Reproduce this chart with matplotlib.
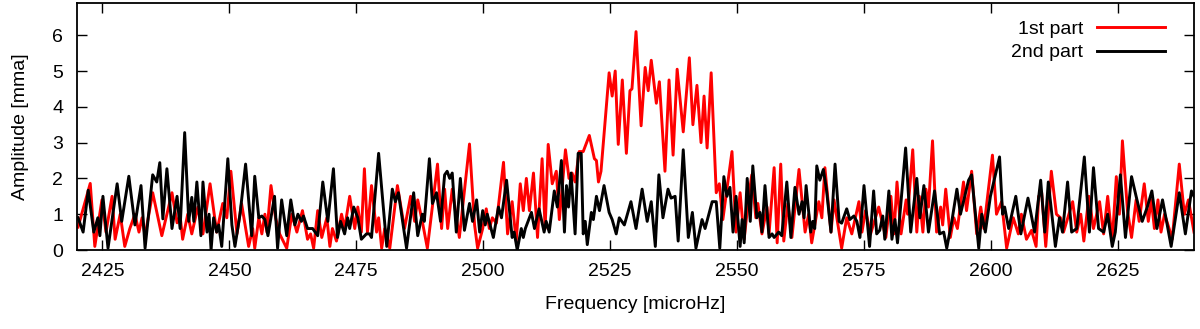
import matplotlib
matplotlib.use("Agg")
import matplotlib.pyplot as plt

# local maxima/minima of each amplitude spectrum
red_freq = [
    2420.2, 2422.6, 2423.5, 2424.9, 2425.7, 2426.9, 2427.5, 2428.5, 2429.4, 2430.4,
    2431.4, 2432.2, 2432.8, 2433.4, 2434.9, 2436.7, 2438.7, 2439.7, 2440.3, 2440.8,
    2441.8, 2442.6, 2443.8, 2444.8, 2446.2, 2447.5, 2448.7, 2449.5, 2450.3, 2451.5,
    2452.4, 2453.8, 2454.6, 2455.0, 2455.8, 2456.4, 2457.0, 2457.4, 2458.2, 2459.1,
    2459.9, 2461.3, 2462.3, 2463.3, 2464.4, 2465.4, 2466.0, 2466.6, 2467.4, 2468.2,
    2469.2, 2469.8, 2470.3, 2471.1, 2472.1, 2472.7, 2473.7, 2474.7, 2475.3, 2476.0,
    2476.6, 2477.2, 2478.0, 2479.0, 2479.4, 2480.0, 2480.6, 2481.6, 2483.1, 2484.5,
    2485.7, 2486.5, 2487.1, 2488.0, 2489.0, 2491.0, 2491.8, 2492.4, 2493.0, 2493.9,
    2495.3, 2497.3, 2498.3, 2498.9, 2499.9, 2500.6, 2501.2, 2501.8, 2502.6, 2504.0,
    2504.8, 2505.7, 2506.5, 2507.3, 2507.9, 2508.5, 2509.1, 2509.9, 2510.7, 2511.6,
    2512.2, 2512.8, 2513.6, 2514.4, 2515.0, 2516.2, 2516.9, 2517.5, 2518.1, 2518.9,
    2519.7, 2520.9, 2521.9, 2522.3, 2522.7, 2523.2, 2524.8, 2525.4, 2526.0, 2526.6,
    2527.4, 2528.2, 2528.9, 2529.3, 2530.1, 2531.1, 2531.9, 2532.5, 2533.1, 2534.1,
    2534.7, 2535.8, 2536.6, 2537.4, 2538.2, 2539.4, 2540.6, 2541.3, 2542.1, 2542.9,
    2543.5, 2544.1, 2544.9, 2545.9, 2546.5, 2547.2, 2549.0, 2549.8, 2550.6, 2551.4,
    2552.3, 2552.9, 2553.7, 2554.1, 2554.9, 2555.9, 2556.3, 2557.3, 2557.9, 2558.6,
    2559.2, 2560.0, 2560.8, 2562.2, 2563.4, 2564.1, 2564.7, 2566.1, 2566.7, 2567.3,
    2568.5, 2569.1, 2570.6, 2571.6, 2572.6, 2574.0, 2574.6, 2575.3, 2576.3, 2577.9,
    2579.3, 2580.3, 2580.9, 2581.5, 2582.3, 2583.3, 2583.6, 2584.6, 2585.4, 2585.9,
    2586.6, 2587.2, 2587.7, 2588.5, 2589.3, 2590.1, 2590.5, 2591.1, 2592.0, 2592.7,
    2593.4, 2594.6, 2595.2, 2596.2, 2597.2, 2598.0, 2598.6, 2600.3, 2601.1, 2602.1,
    2603.1, 2604.4, 2605.4, 2606.0, 2607.0, 2608.0, 2608.9, 2609.4, 2610.0, 2610.8,
    2611.9, 2612.9, 2613.7, 2614.3, 2616.1, 2616.9, 2617.7, 2618.3, 2619.3, 2620.2,
    2621.4, 2622.2, 2623.0, 2623.9, 2624.7, 2625.3, 2625.9, 2626.9, 2627.7, 2628.6,
    2629.2, 2630.2, 2631.0, 2631.6, 2632.2, 2632.9, 2633.5, 2634.2, 2635.1, 2635.7,
    2637.1, 2638.1, 2638.9, 2640.0,
]
red_amp = [
    0.64, 1.86, 0.10, 1.40, 0.50, 1.50, 0.30, 1.00, 0.10, 0.60,
    1.00, 0.50, 0.90, 0.40, 1.60, 0.40, 1.60, 0.76, 0.95, 0.30,
    1.00, 0.45, 1.20, 0.45, 1.85, 0.50, 1.30, 0.90, 2.20, 0.45,
    1.30, 0.10, 0.60, 0.05, 0.90, 0.45, 1.00, 0.50, 1.80, 0.90,
    0.45, 0.05, 1.00, 0.50, 1.10, 0.30, 0.45, 0.05, 1.10, 0.35,
    0.90, 0.10, 0.60, 0.25, 1.00, 0.60, 1.50, 0.60, 1.20, 0.50,
    2.27, 0.50, 1.80, 0.50, 0.90, 0.05, 0.60, 0.05, 1.80, 0.60,
    1.50, 0.80, 1.40, 0.80, 0.05, 2.40, 0.60, 1.70, 0.60, 1.70,
    0.35, 2.96, 0.70, 0.05, 0.60, 1.15, 0.60, 0.90, 0.75, 2.45,
    0.45, 1.35, 0.25, 1.85, 1.10, 2.00, 1.10, 2.15, 0.35, 2.55,
    0.60, 2.95, 1.85, 2.20, 0.85, 2.80, 2.00, 2.15, 1.90, 2.75,
    2.75, 3.20, 2.55, 2.50, 1.90, 2.20, 4.95, 4.30, 5.00, 2.95,
    4.75, 2.70, 4.45, 4.50, 6.10, 3.47, 5.10, 4.45, 5.30, 4.10,
    4.70, 2.20, 4.75, 2.65, 5.05, 3.30, 5.37, 3.50, 4.60, 3.00,
    4.30, 2.85, 4.95, 1.60, 1.85, 0.85, 2.75, 0.50, 1.60, 0.30,
    1.50, 2.10, 0.90, 1.30, 0.45, 1.20, 0.45, 2.30, 0.20, 2.40,
    0.25, 1.30, 0.35, 2.25, 0.50, 1.00, 0.20, 1.35, 0.90, 2.30,
    0.50, 1.40, 0.05, 0.90, 0.45, 1.35, 0.50, 1.10, 0.45, 1.20,
    0.35, 1.50, 0.45, 1.90, 0.45, 1.40, 1.00, 2.80, 0.50, 1.50,
    0.50, 1.70, 1.20, 3.05, 0.50, 1.20, 0.70, 1.70, 0.35, 0.90,
    0.60, 1.90, 1.10, 2.20, 0.45, 1.20, 0.60, 2.65, 1.00, 1.35,
    0.05, 0.90, 0.45, 1.00, 0.30, 0.55, 0.10, 1.50, 1.60, 0.10,
    2.20, 1.00, 0.90, 0.50, 1.35, 0.50, 1.00, 0.25, 1.50, 0.60,
    1.35, 0.45, 1.50, 0.25, 2.05, 1.00, 3.05, 1.10, 0.35, 1.40,
    0.80, 1.85, 0.80, 1.40, 0.60, 1.40, 0.50, 1.00, 0.60, 0.30,
    2.40, 1.00, 1.40, 0.50,
]

black_freq = [
    2420.2, 2421.2, 2422.2, 2423.3, 2424.1, 2424.5, 2425.1, 2426.1, 2427.9, 2428.8,
    2430.2, 2431.4, 2432.6, 2433.4, 2434.9, 2435.7, 2436.3, 2436.9, 2437.7, 2438.7,
    2439.7, 2440.3, 2441.2, 2442.0, 2442.6, 2443.0, 2443.6, 2444.4, 2444.8, 2445.6,
    2446.0, 2446.4, 2446.9, 2447.5, 2447.9, 2448.5, 2449.7, 2450.5, 2451.1, 2452.1,
    2453.2, 2454.4, 2455.0, 2455.8, 2456.4, 2457.0, 2457.6, 2458.9, 2459.5, 2460.3,
    2461.3, 2462.1, 2462.9, 2463.5, 2464.2, 2464.6, 2465.4, 2466.4, 2467.4, 2468.4,
    2469.4, 2470.5, 2471.3, 2471.9, 2472.7, 2473.3, 2473.7, 2474.5, 2475.3, 2476.0,
    2477.0, 2477.6, 2478.0, 2479.4, 2481.0, 2482.1, 2482.7, 2483.3, 2484.9, 2486.3,
    2487.1, 2488.0, 2488.4, 2489.4, 2490.0, 2490.8, 2491.6, 2492.4, 2492.9, 2493.4,
    2493.9, 2494.7, 2495.5, 2496.3, 2497.3, 2497.9, 2498.7, 2499.3, 2499.9, 2500.4,
    2500.8, 2502.0, 2503.0, 2503.6, 2504.6, 2505.7, 2506.1, 2506.7, 2507.5, 2507.9,
    2508.3, 2509.5, 2510.1, 2511.0, 2512.0, 2512.4, 2513.0, 2514.0, 2514.6, 2515.4,
    2516.0, 2516.4, 2516.8, 2517.3, 2518.1, 2518.7, 2519.3, 2519.7, 2520.1, 2520.5,
    2521.3, 2521.7, 2522.3, 2522.9, 2523.8, 2524.8, 2525.4, 2526.2, 2526.8, 2527.8,
    2529.1, 2530.1, 2531.3, 2532.3, 2533.1, 2533.9, 2534.6, 2535.4, 2536.4, 2537.0,
    2537.8, 2538.4, 2539.4, 2540.4, 2541.2, 2541.9, 2543.1, 2543.7, 2545.1, 2545.9,
    2546.6, 2547.4, 2548.0, 2548.6, 2549.2, 2549.8, 2550.6, 2551.0, 2551.4, 2552.0,
    2552.6, 2553.1, 2553.9, 2554.5, 2554.9, 2555.5, 2556.3, 2556.9, 2557.3, 2558.2,
    2558.8, 2559.8, 2560.6, 2561.4, 2562.2, 2562.8, 2563.2, 2563.6, 2564.5, 2564.9,
    2565.3, 2565.7, 2566.3, 2567.0, 2567.6, 2568.5, 2569.3, 2570.1, 2570.6, 2571.6,
    2572.2, 2573.0, 2573.6, 2574.2, 2575.0, 2576.1, 2576.9, 2577.5, 2578.1, 2578.7,
    2579.1, 2579.9, 2580.5, 2581.1, 2581.6, 2583.2, 2584.2, 2585.4, 2586.0, 2586.8,
    2587.7, 2588.9, 2589.9, 2590.7, 2591.3, 2592.3, 2593.3, 2594.0, 2595.0, 2595.6,
    2596.2, 2597.6, 2598.2, 2598.9, 2599.9, 2601.7, 2602.3, 2602.7, 2603.5, 2604.9,
    2605.9, 2607.3, 2608.6, 2609.8, 2610.6, 2611.3, 2612.7, 2613.5, 2614.1, 2615.1,
    2615.9, 2616.9, 2618.4, 2619.4, 2620.2, 2621.2, 2622.2, 2623.0, 2623.9, 2624.5,
    2625.5, 2626.5, 2627.7, 2628.6, 2629.8, 2630.8, 2631.7, 2632.7, 2633.8, 2634.6,
    2635.5, 2637.1, 2638.3, 2639.5, 2640.0,
]
black_amp = [
    0.90, 0.50, 1.67, 0.50, 0.90, 0.40, 1.50, 0.05, 1.85, 0.80,
    2.06, 0.70, 1.80, 0.05, 2.10, 1.90, 2.44, 0.87, 2.27, 0.60,
    1.50, 0.60, 3.28, 0.80, 1.47, 0.80, 1.90, 0.40, 1.90, 0.50,
    1.00, 0.00, 0.90, 0.50, 0.70, 0.10, 2.55, 0.70, 0.10, 1.00,
    2.40, 0.40, 2.06, 0.90, 0.95, 0.85, 0.40, 1.50, 0.05, 1.40,
    0.40, 1.40, 0.70, 1.00, 0.80, 0.95, 0.60, 0.60, 0.40, 1.90,
    0.80, 2.27, 0.35, 0.80, 0.45, 0.90, 0.60, 1.20, 0.90, 0.30,
    0.45, 0.45, 0.35, 2.70, 0.10, 1.70, 1.35, 1.60, 0.05, 1.60,
    0.40, 1.00, 0.80, 2.55, 1.30, 1.60, 0.80, 2.10, 2.20, 2.00,
    2.15, 0.50, 2.00, 0.55, 1.30, 0.80, 1.40, 0.50, 1.10, 0.70,
    1.00, 0.35, 1.20, 0.90, 1.95, 0.35, 0.50, 0.00, 0.60, 0.35,
    0.60, 1.05, 0.60, 1.15, 0.50, 0.80, 0.50, 1.65, 1.20, 2.50,
    0.50, 1.80, 1.20, 2.15, 0.45, 2.70, 2.70, 0.45, 0.80, 0.15,
    1.05, 0.85, 1.50, 1.10, 1.80, 1.05, 0.85, 0.45, 0.90, 0.70,
    1.35, 0.60, 1.70, 0.80, 1.35, 0.10, 2.10, 0.90, 1.70, 1.45,
    1.50, 0.25, 2.80, 0.35, 1.05, 0.05, 0.85, 0.60, 1.35, 1.35,
    0.05, 2.05, 1.50, 1.75, 0.50, 1.50, 0.10, 0.85, 0.20, 2.00,
    0.80, 2.35, 0.90, 1.05, 0.50, 1.80, 0.35, 0.45, 0.35, 0.50,
    0.40, 1.90, 0.35, 1.75, 1.00, 1.35, 0.90, 1.80, 0.50, 0.80,
    0.60, 2.35, 1.95, 2.25, 1.70, 0.50, 2.40, 0.80, 0.75, 1.15,
    0.85, 0.95, 0.80, 0.35, 1.80, 0.10, 1.65, 0.45, 0.55, 0.95,
    0.30, 1.65, 0.30, 0.85, 0.20, 2.85, 0.50, 2.00, 0.90, 1.80,
    0.50, 1.65, 0.45, 0.50, 0.05, 0.80, 1.70, 1.00, 1.60, 1.95,
    2.10, 0.05, 1.00, 0.50, 1.50, 2.60, 1.00, 1.20, 0.60, 1.50,
    0.45, 1.45, 0.50, 1.95, 0.50, 1.90, 0.10, 0.90, 0.50, 1.90,
    0.50, 0.60, 2.60, 0.50, 2.30, 0.60, 0.50, 1.00, 0.10, 0.50,
    2.10, 0.35, 2.05, 1.50, 0.80, 1.20, 1.65, 0.60, 1.40, 0.80,
    0.10, 1.60, 0.45, 1.65, 1.50,
]

x_ticks = [2425, 2450, 2475, 2500, 2525, 2550, 2575, 2600, 2625]
y_ticks = [0, 1, 2, 3, 4, 5, 6]

plt.rcParams["font.family"] = ["Liberation Sans", "DejaVu Sans"]
plt.rcParams["font.size"] = 14

fig = plt.figure(figsize=(12, 3.29), dpi=100)
ax = fig.add_axes([0.0642, 0.2401, 0.9308, 0.7508])

ax.plot(red_freq, red_amp, color="#ff0000", lw=2.1, label="1st part")
ax.plot(black_freq, black_amp, color="black", lw=2.1, label="2nd part")

ax.set_xlim(2420, 2640)
ax.set_ylim(0, 6.9)
ax.set_xticks(x_ticks)
ax.set_yticks(y_ticks)
ax.tick_params(direction="in", length=7, width=1, top=True, right=True,
               labelsize=14)
ax.tick_params(axis="x", pad=9)
ax.tick_params(axis="y", pad=10)
for s in ax.spines.values():
    s.set_linewidth(1.3)

ax.set_xlabel("Frequency [microHz]", fontsize=14, labelpad=12)
ax.set_ylabel("Amplitude [mma]", fontsize=14, labelpad=17)

ax.legend(loc="upper right", bbox_to_anchor=(0.974, 0.93), frameon=False,
          markerfirst=False, handlelength=3.5, fontsize=14, borderpad=0,
          borderaxespad=0, labelspacing=0.3, handletextpad=0.7)

fig.savefig("out.png", dpi=100)
